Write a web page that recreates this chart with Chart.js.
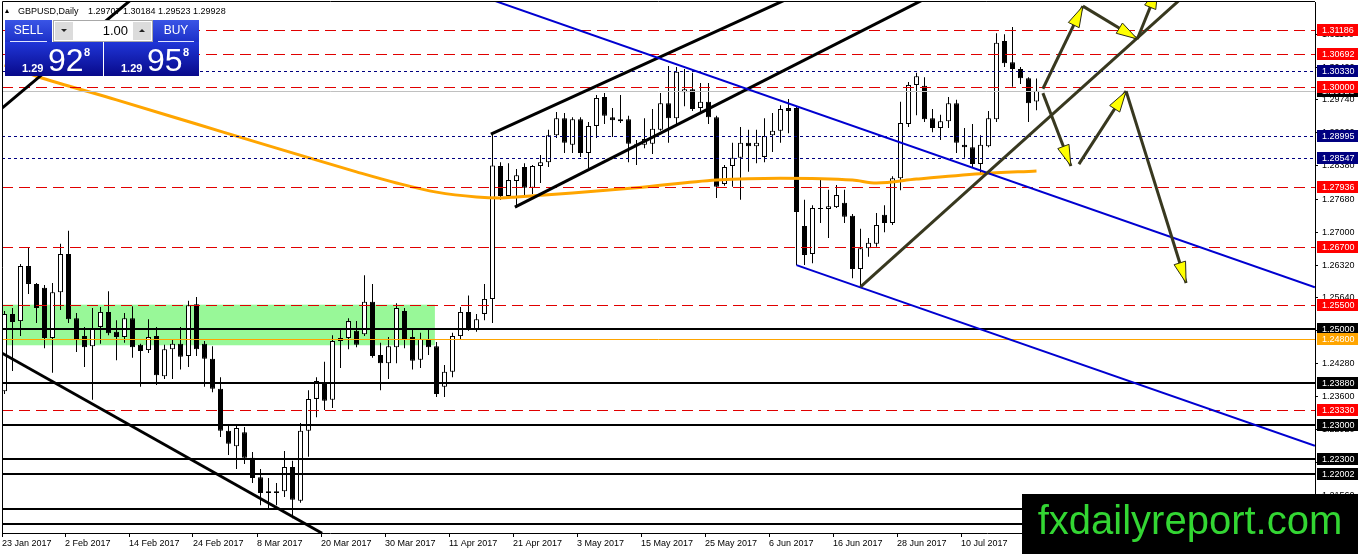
<!DOCTYPE html>
<html>
<head>
<meta charset="utf-8">
<title>GBPUSD Daily</title>
<script src="https://cdn.jsdelivr.net/npm/chart.js@4.4.1/dist/chart.umd.min.js"></script>
<style>
  html, body { margin: 0; padding: 0; background: #fff; }
  #wrap { width: 1358px; height: 554px; position: relative; }
</style>
</head>
<body>
<div id="wrap"><canvas id="chart" width="1358" height="554"></canvas></div>
<script>
const symbolName = "GBPUSD,Daily";
const bidPrice = 1.29928;
const askPrice = 1.29958;
const lotSize = "1.00";
const siteName = "fxdailyreport.com";

// daily candles, 23 Jan 2017 .. 21 Jul 2017 (one entry per trading day)
const opens = [
  1.2371, 1.2531, 1.2516, 1.2630, 1.2593, 1.2585, 1.2481, 1.2576, 1.2655, 1.2522,
  1.2485, 1.2464, 1.2504, 1.2535, 1.2494, 1.2483, 1.2522, 1.2467, 1.2456, 1.2485,
  1.2402, 1.2458, 1.2469, 1.2444, 1.2551, 1.2469, 1.2438, 1.2376, 1.2289, 1.2257,
  1.2286, 1.2233, 1.2193, 1.2164, 1.2160, 1.2164, 1.2214, 1.2144, 1.2289, 1.2355,
  1.2386, 1.2353, 1.2475, 1.2481, 1.2496, 1.2489, 1.2556, 1.2446, 1.2429, 1.2462,
  1.2537, 1.2483, 1.2436, 1.2479, 1.2464, 1.2380, 1.2411, 1.2485, 1.2535, 1.2498,
  1.2531, 1.2562, 1.2837, 1.2775, 1.2806, 1.2835, 1.2792, 1.2837, 1.2845, 1.2901,
  1.2936, 1.2881, 1.2934, 1.2864, 1.2920, 1.2980, 1.2938, 1.2934, 1.2934, 1.2883,
  1.2881, 1.2883, 1.2912, 1.2967, 1.2936, 1.2990, 1.2996, 1.2957, 1.2970, 1.2938,
  1.2800, 1.2837, 1.2854, 1.2885, 1.2878, 1.2856, 1.2901, 1.2910, 1.2957, 1.2957,
  1.2713, 1.2655, 1.2750, 1.2748, 1.2752, 1.2761, 1.2734, 1.2624, 1.2667, 1.2676,
  1.2736, 1.2719, 1.2812, 1.2924, 1.3005, 1.3003, 1.2936, 1.2916, 1.2930, 1.2967,
  1.2881, 1.2876, 1.2841, 1.2878, 1.2934, 1.3096, 1.3052, 1.3038, 1.3019, 1.29707
];
const highs = [
  1.2537, 1.2543, 1.2634, 1.2669, 1.2595, 1.2591, 1.2595, 1.2676, 1.2703, 1.2533,
  1.2504, 1.2543, 1.2545, 1.2578, 1.2518, 1.2533, 1.2547, 1.2469, 1.2520, 1.2504,
  1.2467, 1.2477, 1.2504, 1.2558, 1.2566, 1.2475, 1.2464, 1.2400, 1.2301, 1.2303,
  1.2297, 1.2245, 1.2210, 1.2191, 1.2181, 1.2247, 1.2227, 1.2305, 1.2373, 1.2400,
  1.2432, 1.2487, 1.2502, 1.2522, 1.2516, 1.2611, 1.2593, 1.2471, 1.2483, 1.2553,
  1.2543, 1.2498, 1.2492, 1.2502, 1.2473, 1.2425, 1.2492, 1.2545, 1.2569, 1.2531,
  1.2593, 1.2903, 1.2845, 1.2843, 1.2831, 1.2843, 1.2839, 1.2860, 1.2912, 1.2949,
  1.2947, 1.2938, 1.2938, 1.2928, 1.2984, 1.2988, 1.2957, 1.2984, 1.2941, 1.2891,
  1.2936, 1.2955, 1.2988, 1.3044, 1.3042, 1.3038, 1.3030, 1.3009, 1.3009, 1.2941,
  1.2839, 1.2885, 1.2918, 1.2912, 1.2912, 1.2936, 1.2947, 1.2963, 1.2976, 1.2961,
  1.2767, 1.2756, 1.2808, 1.2788, 1.2798, 1.2788, 1.2738, 1.2707, 1.2688, 1.2740,
  1.2756, 1.2816, 1.2970, 1.3011, 1.3030, 1.3021, 1.2955, 1.2943, 1.2980, 1.2974,
  1.2916, 1.2924, 1.2901, 1.2951, 1.3112, 1.3110, 1.3125, 1.3042, 1.3021, 1.30184
];
const lows = [
  1.2365, 1.2413, 1.2485, 1.2572, 1.2512, 1.2460, 1.2409, 1.2539, 1.2512, 1.2452,
  1.2421, 1.2353, 1.2469, 1.2487, 1.2435, 1.2471, 1.2440, 1.2380, 1.2450, 1.2384,
  1.2396, 1.2396, 1.2416, 1.2421, 1.2444, 1.2380, 1.2369, 1.2276, 1.2239, 1.2210,
  1.2220, 1.2181, 1.2135, 1.2129, 1.2135, 1.2152, 1.2108, 1.2140, 1.2235, 1.2317,
  1.2332, 1.2336, 1.2419, 1.2458, 1.2462, 1.2485, 1.2440, 1.2373, 1.2396, 1.2429,
  1.2460, 1.2416, 1.2419, 1.2446, 1.2359, 1.2359, 1.2400, 1.2477, 1.2496, 1.2494,
  1.2518, 1.2512, 1.2767, 1.2771, 1.2750, 1.2775, 1.2779, 1.2802, 1.2835, 1.2895,
  1.2864, 1.2864, 1.2856, 1.2833, 1.2895, 1.2924, 1.2897, 1.2926, 1.2845, 1.2839,
  1.2874, 1.2862, 1.2910, 1.2885, 1.2924, 1.2961, 1.2951, 1.2949, 1.2924, 1.2771,
  1.2796, 1.2794, 1.2767, 1.2825, 1.2843, 1.2845, 1.2866, 1.2885, 1.2905, 1.2632,
  1.2632, 1.2636, 1.2719, 1.2688, 1.2750, 1.2719, 1.2605, 1.2587, 1.2649, 1.2670,
  1.2700, 1.2715, 1.2787, 1.2918, 1.2942, 1.2928, 1.2907, 1.2891, 1.2916, 1.2864,
  1.2854, 1.2835, 1.2821, 1.2876, 1.2928, 1.3042, 1.3001, 1.3007, 1.2928, 1.29523
];
const closes = [
  1.2531, 1.2514, 1.2630, 1.2593, 1.2543, 1.2481, 1.2576, 1.2655, 1.2520, 1.2477,
  1.2462, 1.2502, 1.2535, 1.2491, 1.2483, 1.2522, 1.2462, 1.2454, 1.2483, 1.2404,
  1.2458, 1.2469, 1.2442, 1.2549, 1.2458, 1.2438, 1.2376, 1.2289, 1.2262, 1.2295,
  1.2233, 1.2191, 1.2160, 1.2160, 1.2164, 1.2214, 1.2146, 1.2289, 1.2355, 1.2392,
  1.2351, 1.2475, 1.2481, 1.2516, 1.2467, 1.2556, 1.2444, 1.2429, 1.2464, 1.2543,
  1.2479, 1.2434, 1.2479, 1.2462, 1.2365, 1.2411, 1.2485, 1.2535, 1.2498, 1.2520,
  1.2562, 1.2838, 1.2775, 1.2808, 1.2818, 1.2792, 1.2837, 1.2845, 1.2901, 1.2936,
  1.2885, 1.2934, 1.2864, 1.2920, 1.2978, 1.2941, 1.2932, 1.2930, 1.2883, 1.2881,
  1.2893, 1.2914, 1.2967, 1.2936, 1.3032, 1.2996, 1.2955, 1.2970, 1.2938, 1.2794,
  1.2835, 1.2854, 1.2885, 1.2878, 1.2885, 1.2899, 1.2910, 1.2955, 1.2951, 1.2742,
  1.2653, 1.2750, 1.2748, 1.2754, 1.2777, 1.2732, 1.2624, 1.2667, 1.2678, 1.2715,
  1.2719, 1.2812, 1.2926, 1.3005, 1.3023, 1.2934, 1.2916, 1.2930, 1.2967, 1.2885,
  1.2876, 1.2841, 1.2881, 1.2936, 1.3092, 1.3050, 1.3038, 1.3019, 1.2967, 1.29928
];

const dateTickBars = [0, 8, 16, 24, 32, 40, 48, 56, 64, 72, 80, 88, 96, 104, 112, 120];
const dateTickLabels = ["23 Jan 2017", "2 Feb 2017", "14 Feb 2017", "24 Feb 2017", "8 Mar 2017",
  "20 Mar 2017", "30 Mar 2017", "11 Apr 2017", "21 Apr 2017", "3 May 2017", "15 May 2017",
  "25 May 2017", "6 Jun 2017", "16 Jun 2017", "28 Jun 2017", "10 Jul 2017"];

const priceTicks = [1.31100, 1.30420, 1.29740, 1.29060, 1.28380, 1.27680, 1.27000, 1.26320,
  1.25640, 1.24960, 1.24280, 1.23600, 1.22920, 1.22240, 1.21560, 1.20880];
const priceMin = 1.20774, priceMax = 1.31766;
const barMin = -0.3125, barMax = 163.8125;

// moving average (orange)
const maBars = [0, 4, 14, 24, 34, 44, 49, 54, 59, 62, 64, 71, 79, 89, 97, 106, 109, 114, 122, 129];
const maValues = [1.3046, 1.3023, 1.2974, 1.2924, 1.2874, 1.2825, 1.2802, 1.2783, 1.2773, 1.2771,
  1.2773, 1.2781, 1.2792, 1.2808, 1.2812, 1.2808, 1.2802, 1.2810, 1.2821, 1.2827];

// horizontal levels
const levelPrices = [1.31186, 1.30692, 1.30330, 1.30000, 1.28995, 1.28547, 1.27936, 1.26700, 1.25500,
  1.25000, 1.24800, 1.23880, 1.23330, 1.23000, 1.22300, 1.22002, 1.21280, 1.20970];
const levelKinds = ["red", "red", "blue", "red", "blue", "blue", "red", "red", "red",
  "black", "orange", "black", "red", "black", "black", "black", "black", "black"];

// green zone
const zoneBars = [-1, 53.8];
const zonePrices = [1.2550, 1.2466];

// trend lines
const trendFromBar = [-0.56, -0.31, 60.8, 63.8, 58.0, 99.0, 107.0];
const trendFromPrice = [1.2452, 1.2957, 1.2903, 1.2752, 1.3198, 1.2632, 1.2587];
const trendToBar = [39.7, 15.8, 97.6, 114.8, 163.8, 163.8, 146.9];
const trendToPrice = [1.2077, 1.3181, 1.3181, 1.3181, 1.2586, 1.2258, 1.3181];
const trendKinds = ["black", "black", "black", "black", "blue", "blue", "olive"];

// forecast arrows
const arrowFromBar = [129.8, 134.8, 141.6, 129.8, 134.3, 140.2];
const arrowFromPrice = [1.2997, 1.3168, 1.3100, 1.2988, 1.2841, 1.2992];
const arrowToBar = [134.8, 141.6, 144.2, 133.3, 140.2, 147.7];
const arrowToPrice = [1.3168, 1.3100, 1.3206, 1.2837, 1.2992, 1.2595];

const FONT = "'Liberation Sans', Arial, sans-serif";
const levelStyles = {
  red: { color: "#e00000", width: 1, dash: [11, 6], box: "#ff0000", text: "#fff" },
  blue: { color: "#000080", width: 1, dash: [3, 3], box: "#000080", text: "#fff" },
  black: { color: "#000", width: 2, dash: [], box: "#000", text: "#fff" },
  orange: { color: "#ffa500", width: 1, dash: [], box: "#ffa500", text: "#fff" }
};
const trendStyles = {
  black: { color: "#000", width: 3 },
  blue: { color: "#0000d0", width: 2 },
  olive: { color: "#38381f", width: 3 }
};

const wickData = opens.map((o, i) => ({ x: i, y: [lows[i], highs[i]] }));
const bodyData = opens.map((o, i) => ({ x: i, y: [Math.min(o, closes[i]), Math.max(o, closes[i])] }));
const bodyColors = opens.map((o, i) => (closes[i] >= o ? "#fff" : "#000"));
const maData = maBars.map((b, i) => ({ x: b, y: maValues[i] }));

function px(chart, bar, price) {
  return [chart.scales.x.getPixelForValue(bar), chart.scales.y.getPixelForValue(price)];
}

function clipArea(ctx, a) {
  ctx.beginPath();
  ctx.rect(a.left, a.top, a.right - a.left, a.bottom - a.top);
  ctx.clip();
}

function drawArrow(ctx, x1, y1, x2, y2) {
  ctx.strokeStyle = trendStyles.olive.color;
  ctx.lineWidth = 3;
  ctx.beginPath();
  ctx.moveTo(x1, y1);
  ctx.lineTo(x2, y2);
  ctx.stroke();
  const a = Math.atan2(y2 - y1, x2 - x1);
  const len = 21, half = 6;
  const bx = x2 - len * Math.cos(a), by = y2 - len * Math.sin(a);
  ctx.beginPath();
  ctx.moveTo(x2, y2);
  ctx.lineTo(bx + half * Math.sin(a), by - half * Math.cos(a));
  ctx.lineTo(bx - half * Math.sin(a), by + half * Math.cos(a));
  ctx.closePath();
  ctx.fillStyle = "#ffff00";
  ctx.fill();
  ctx.lineWidth = 1;
  ctx.strokeStyle = "#2a2a18";
  ctx.stroke();
}

function priceBox(ctx, y, bg, fg, text) {
  const yy = Math.round(y);
  ctx.fillStyle = bg;
  ctx.fillRect(1317, yy - 6, 41, 12);
  ctx.fillStyle = fg;
  ctx.font = "9px " + FONT;
  ctx.textAlign = "left";
  ctx.textBaseline = "middle";
  ctx.fillText(text, 1322, yy + 0.5);
}

function priceTile(ctx, x, w, price, header, hx, hw) {
  // header part
  let g = ctx.createLinearGradient(0, 20, 0, 42);
  g.addColorStop(0, "#3a55e6");
  g.addColorStop(1, "#1c30c8");
  ctx.fillStyle = g;
  ctx.fillRect(hx, 20, hw, 22);
  ctx.strokeStyle = "#dfe4ff";
  ctx.lineWidth = 1;
  ctx.beginPath();
  ctx.moveTo(hx + 5, 41.5);
  ctx.lineTo(hx + hw - 5, 41.5);
  ctx.stroke();
  ctx.fillStyle = "#fff";
  ctx.font = "12px " + FONT;
  ctx.textAlign = "center";
  ctx.textBaseline = "middle";
  ctx.fillText(header, hx + hw / 2, 31);
  // price part
  g = ctx.createLinearGradient(0, 42, 0, 76);
  g.addColorStop(0, "#2036d8");
  g.addColorStop(1, "#08098a");
  ctx.fillStyle = g;
  ctx.fillRect(x, 42, w, 34);
  const s = price.toFixed(5);
  ctx.fillStyle = "#fff";
  ctx.textAlign = "left";
  ctx.textBaseline = "alphabetic";
  ctx.font = "bold 11px " + FONT;
  ctx.fillText(s.slice(0, 4), x + 17, 72);
  ctx.font = "32px " + FONT;
  ctx.fillText(s.slice(4, 6), x + 43, 71);
  ctx.font = "bold 11px " + FONT;
  ctx.fillText(s.slice(6), x + 79, 56);
}

const drawings = {
  id: "drawings",
  beforeDatasetsDraw(chart) {
    const ctx = chart.ctx, a = chart.chartArea;
    ctx.save();
    clipArea(ctx, a);
    const [x1, y1] = px(chart, zoneBars[0], zonePrices[0]);
    const [x2, y2] = px(chart, zoneBars[1], zonePrices[1]);
    ctx.fillStyle = "#98f898";
    ctx.fillRect(x1, y1, x2 - x1, y2 - y1);
    ctx.restore();
  },
  afterDatasetsDraw(chart) {
    const ctx = chart.ctx, a = chart.chartArea;
    ctx.save();
    clipArea(ctx, a);
    // bid line
    const yb = Math.round(chart.scales.y.getPixelForValue(bidPrice)) + 0.5;
    ctx.strokeStyle = "#c0c0c0";
    ctx.lineWidth = 1;
    ctx.beginPath();
    ctx.moveTo(a.left, yb);
    ctx.lineTo(a.right, yb);
    ctx.stroke();
    levelPrices.forEach((p, i) => {
      const st = levelStyles[levelKinds[i]];
      let y = Math.round(chart.scales.y.getPixelForValue(p));
      if (st.width % 2 === 1) y += 0.5;
      ctx.strokeStyle = st.color;
      ctx.lineWidth = st.width;
      ctx.setLineDash(st.dash);
      ctx.beginPath();
      ctx.moveTo(a.left, y);
      ctx.lineTo(a.right, y);
      ctx.stroke();
    });
    ctx.setLineDash([]);
    ctx.lineCap = "butt";
    trendKinds.forEach((k, i) => {
      const st = trendStyles[k];
      const [x1, y1] = px(chart, trendFromBar[i], trendFromPrice[i]);
      const [x2, y2] = px(chart, trendToBar[i], trendToPrice[i]);
      ctx.strokeStyle = st.color;
      ctx.lineWidth = st.width;
      ctx.beginPath();
      ctx.moveTo(x1, y1);
      ctx.lineTo(x2, y2);
      ctx.stroke();
    });
    arrowFromBar.forEach((b, i) => {
      const [x1, y1] = px(chart, b, arrowFromPrice[i]);
      const [x2, y2] = px(chart, arrowToBar[i], arrowToPrice[i]);
      drawArrow(ctx, x1, y1, x2, y2);
    });
    ctx.restore();
  },
  afterDraw(chart) {
    const ctx = chart.ctx, a = chart.chartArea;
    ctx.save();
    // frame
    ctx.strokeStyle = "#000";
    ctx.lineWidth = 1;
    ctx.beginPath();
    ctx.moveTo(a.left + 0.5, a.bottom);
    ctx.lineTo(a.left + 0.5, a.top - 0.5);
    ctx.lineTo(a.right, a.top - 0.5);
    ctx.stroke();

    // price labels on the axis
    priceBox(ctx, chart.scales.y.getPixelForValue(bidPrice), "#000", "#fff", bidPrice.toFixed(5));
    levelPrices.forEach((p, i) => {
      const st = levelStyles[levelKinds[i]];
      priceBox(ctx, chart.scales.y.getPixelForValue(p), st.box, st.text, p.toFixed(5));
    });

    // header
    ctx.fillStyle = "#000";
    ctx.beginPath();
    ctx.moveTo(5, 13);
    ctx.lineTo(9, 13);
    ctx.lineTo(7, 9);
    ctx.closePath();
    ctx.fill();
    ctx.font = "9px " + FONT;
    ctx.textAlign = "left";
    ctx.textBaseline = "alphabetic";
    ctx.fillText(symbolName, 18, 14);
    const last = opens.length - 1;
    ctx.fillText([opens[last], highs[last], lows[last], closes[last]].map(v => v.toFixed(5)).join(" "), 88, 14);

    // one-click trading panel
    priceTile(ctx, 5, 98, bidPrice, "SELL", 5, 47);
    priceTile(ctx, 104, 95, askPrice, "BUY", 153, 46);
    ctx.fillStyle = "#fff";
    ctx.fillRect(53, 20, 100, 22);
    ctx.strokeStyle = "#a8a8a8";
    ctx.strokeRect(53.5, 20.5, 99, 21);
    ctx.fillStyle = "#dcdcdc";
    ctx.fillRect(55, 22, 18, 18);
    ctx.fillRect(133, 22, 18, 18);
    ctx.fillStyle = "#222";
    ctx.beginPath();
    ctx.moveTo(61, 29); ctx.lineTo(67, 29); ctx.lineTo(64, 32); ctx.closePath(); ctx.fill();
    ctx.beginPath();
    ctx.moveTo(139, 32); ctx.lineTo(145, 32); ctx.lineTo(142, 29); ctx.closePath(); ctx.fill();
    ctx.fillStyle = "#000";
    ctx.font = "13px " + FONT;
    ctx.textAlign = "right";
    ctx.textBaseline = "middle";
    ctx.fillText(lotSize, 128, 31);

    // watermark box
    ctx.fillStyle = "#000";
    ctx.fillRect(1022, 494, 336, 60);
    ctx.fillStyle = "#33d633";
    ctx.font = "40px " + FONT;
    ctx.textAlign = "center";
    ctx.textBaseline = "alphabetic";
    ctx.fillText(siteName, 1190, 534);
    ctx.restore();
  }
};

const tickFont = { family: FONT, size: 9 };

new Chart(document.getElementById("chart"), {
  type: "bar",
  data: {
    datasets: [
      {
        type: "line",
        data: maData,
        borderColor: "#ffa500",
        borderWidth: 3,
        pointRadius: 0,
        tension: 0.4,
        cubicInterpolationMode: "monotone",
        order: 0
      },
      {
        data: bodyData,
        backgroundColor: bodyColors,
        borderColor: "#000",
        borderWidth: 1,
        borderSkipped: false,
        barThickness: 5,
        maxBarThickness: 5,
        minBarLength: 1,
        grouped: false,
        inflateAmount: 0,
        order: 1
      },
      {
        data: wickData,
        backgroundColor: "#000",
        borderWidth: 0,
        barThickness: 1,
        maxBarThickness: 1,
        grouped: false,
        inflateAmount: 0,
        order: 2
      }
    ]
  },
  options: {
    responsive: false,
    devicePixelRatio: 1,
    animation: false,
    layout: { padding: { left: 2, top: 2, right: 0, bottom: 0 } },
    plugins: { legend: { display: false }, tooltip: { enabled: false } },
    scales: {
      x: {
        type: "linear",
        position: "bottom",
        min: barMin,
        max: barMax,
        offset: false,
        afterBuildTicks: s => {
          s.ticks = dateTickBars.map(b => ({ value: Math.max(b - 0.4375, barMin) }));
        },
        afterFit: s => {
          s.height = 21;
          s.paddingLeft = 0;
          s.paddingRight = 0;
        },
        ticks: {
          autoSkip: false,
          maxRotation: 0,
          align: "start",
          padding: 1,
          color: "#000",
          font: tickFont,
          callback: (v, i) => dateTickLabels[i]
        },
        grid: { drawOnChartArea: false, offset: false, tickLength: 4, color: "#000" },
        border: { display: true, color: "#000" }
      },
      y: {
        type: "linear",
        position: "right",
        min: priceMin,
        max: priceMax,
        beginAtZero: false,
        afterBuildTicks: s => {
          s.ticks = priceTicks.map(v => ({ value: v }));
        },
        afterFit: s => {
          s.width = 43;
          s.paddingTop = 0;
          s.paddingBottom = 0;
        },
        ticks: {
          autoSkip: false,
          padding: 4,
          color: "#000",
          font: tickFont,
          callback: v => v.toFixed(5)
        },
        grid: { drawOnChartArea: false, tickLength: 3, color: "#000" },
        border: { display: true, color: "#000" }
      }
    }
  },
  plugins: [drawings]
});
</script>
</body>
</html>
